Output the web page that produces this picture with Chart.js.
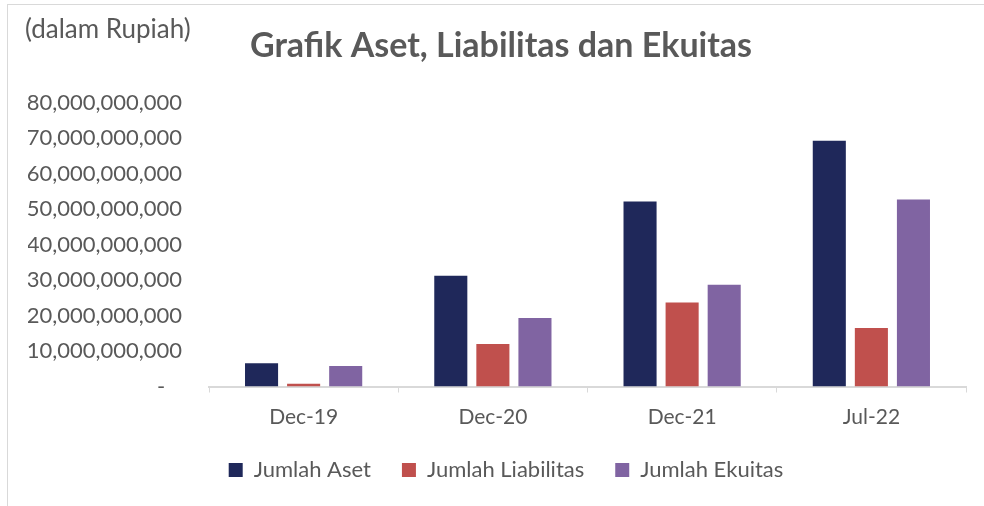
<!DOCTYPE html>
<html>
<head>
<meta charset="utf-8">
<script src="https://cdn.jsdelivr.net/npm/chart.js@4.4.1/dist/chart.umd.min.js"></script>
<style>
  html, body { margin: 0; padding: 0; background: #fff; }
  #wrap { position: relative; width: 984px; height: 506px; }
  #frame { position: absolute; left: 7px; top: 4px; right: 0; bottom: 0; border-left: 1px solid #d9d9d9; border-top: 1px solid #d9d9d9; }
  #unit { position: absolute; left: 25px; top: 12px; font: 26px Lato, sans-serif; color: #595959; }
  canvas { position: absolute; left: 0; top: 0; }
</style>
</head>
<body>
<div id="wrap">
  <div id="frame"></div>
  <canvas id="chart" width="984" height="506"></canvas>
  <div id="unit">(dalam Rupiah)</div>
</div>
<script>
// data (Rupiah)
const periods = ["Dec-19", "Dec-20", "Dec-21", "Jul-22"];
const jumlahAset = [6550000000, 31200000000, 52200000000, 69300000000];
const jumlahLiabilitas = [800000000, 12000000000, 23700000000, 16500000000];
const jumlahEkuitas = [5800000000, 19300000000, 28700000000, 52700000000];

const gray = "#595959";
const fontFam = "Lato, sans-serif";

// nudge title and legend sideways so they sit where the original has them
const nudge = {
  id: "nudge",
  afterLayout(chart) {
    const t = chart.titleBlock, l = chart.legend;
    t.left += 4; t.right += 4;
    l.left += 9; l.right += 9;
  }
};

const ctx = document.getElementById("chart").getContext("2d");
new Chart(ctx, {
  type: "bar",
  data: {
    labels: periods,
    datasets: [
      { label: "Jumlah Aset", data: jumlahAset, backgroundColor: "#1f285a" },
      { label: "Jumlah Liabilitas", data: jumlahLiabilitas, backgroundColor: "#c0504d" },
      { label: "Jumlah Ekuitas", data: jumlahEkuitas, backgroundColor: "#8064a2" }
    ]
  },
  options: {
    responsive: false,
    animation: false,
    layout: { padding: { left: 28, right: 18, top: 0, bottom: 15 } },
    datasets: { bar: { categoryPercentage: 0.667, barPercentage: 0.786 } },
    plugins: {
      title: {
        display: true,
        text: "Grafik Aset, Liabilitas dan Ekuitas",
        color: gray,
        font: { family: fontFam, size: 34, weight: "bold" },
        padding: { top: 26, bottom: 36 }
      },
      legend: {
        position: "bottom",
        labels: {
          color: gray,
          font: { family: fontFam, size: 22 },
          boxWidth: 14,
          boxHeight: 14,
          padding: 31
        }
      },
      tooltip: { enabled: false }
    },
    scales: {
      x: {
        grid: { display: true, drawOnChartArea: false, drawTicks: true, tickLength: 6, color: "#d9d9d9", offset: true },
        border: { display: true, color: "#d9d9d9", width: 2 },
        ticks: { color: gray, font: { family: fontFam, size: 21 }, padding: 12 },
        afterFit: s => { s.height = 41.5; }
      },
      y: {
        min: 0,
        max: 80000000000,
        grid: { display: false },
        border: { display: false },
        ticks: {
          stepSize: 10000000000,
          color: gray,
          font: { family: fontFam, size: 22 },
          padding: 19,
          callback: v => v === 0 ? "-   " : v.toLocaleString("en-US")
        },
        afterFit: s => { s.width = 181; }
      }
    }
  },
  plugins: [nudge]
});
</script>
</body>
</html>
